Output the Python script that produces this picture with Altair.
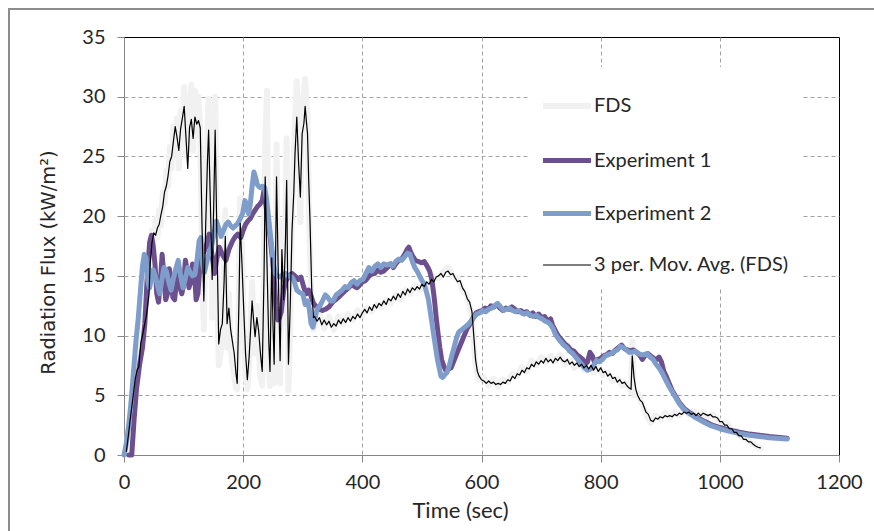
import altair as alt
import pandas as pd

# ---------------- data ----------------
series_names = ["FDS", "Experiment 1", "Experiment 2", "3 per. Mov. Avg. (FDS)"]
series_colors = ["#f1f1f1", "#6c4f8f", "#7f9dca", "#000000"]
series_widths = [6, 5, 5, 1.2]

x_ticks = [0, 200, 400, 600, 800, 1000, 1200]
y_ticks = [0, 5, 10, 15, 20, 25, 30, 35]

fds_points = [
    (4, 0.5), (7, 2.0), (10, 3.2), (13, 4.6), (16, 5.8), (19, 7.0), (22, 7.8), (25, 8.3), (28, 10.2),
    (31, 10.8), (34, 11.6), (37, 12.2), (40, 13.5), (42, 14.8), (44, 15.0), (47, 18.8), (50, 17.8),
    (53, 19.8), (56, 18.2), (59, 20.5), (62, 19.2), (65, 22.0), (68, 21.0), (71, 23.8), (74, 22.5),
    (77, 25.8), (80, 24.0), (83, 27.5), (86, 26.2), (89, 28.2), (92, 24.0), (95, 28.8), (98, 27.0),
    (101, 30.8), (104, 25.0), (107, 25.5), (110, 29.0), (113, 31.0), (116, 25.5), (119, 30.5),
    (122, 26.8), (125, 30.0), (128, 27.0), (131, 17.0), (134, 10.5), (137, 20.5), (140, 27.0),
    (142, 29.8), (145, 22.5), (148, 11.5), (151, 24.5), (153, 30.0), (156, 16.0), (159, 7.5),
    (162, 8.5), (165, 10.0), (168, 16.0), (170, 20.5), (173, 9.0), (176, 13.5), (179, 9.0),
    (182, 7.5), (185, 6.5), (188, 5.6), (190, 5.5), (193, 14.0), (195, 21.5), (198, 17.5),
    (201, 10.0), (204, 6.5), (207, 5.5), (210, 7.5), (213, 12.0), (215, 14.5), (218, 10.0),
    (220, 8.5), (223, 12.5), (226, 9.0), (229, 6.5), (232, 5.8), (235, 17.0), (237, 26.0),
    (240, 30.5), (243, 8.0), (245, 5.8), (248, 18.5), (250, 10.0), (252, 6.0), (254, 17.0),
    (256, 26.0), (259, 13.0), (262, 6.0), (265, 19.5), (268, 11.0), (271, 20.5), (273, 26.5),
    (276, 5.4), (279, 11.0), (282, 20.5), (285, 24.5), (287, 28.0), (290, 31.3), (293, 26.0),
    (296, 19.5), (299, 29.0), (302, 30.5), (304, 31.5), (306, 29.5), (308, 28.5), (310, 21.0),
    (312, 17.5), (315, 12.0), (318, 10.5),
    (320, 11.0), (328, 11.8), (336, 10.6), (344, 11.6), (352, 10.5), (360, 11.6), (368, 11.0),
    (376, 11.8), (384, 11.3), (392, 12.1), (400, 11.7), (408, 12.3), (416, 12.0), (424, 12.6),
    (432, 12.4), (440, 13.0), (448, 12.7), (456, 13.4), (464, 13.0), (472, 13.8), (480, 13.5),
    (488, 14.2), (496, 13.8), (504, 14.4), (512, 14.1), (520, 14.9), (528, 14.8), (536, 15.4),
    (544, 15.7), (552, 15.0), (560, 14.8), (568, 13.8), (576, 13.4), (584, 11.5), (590, 7.5),
    (596, 6.3), (604, 6.5), (612, 5.8), (620, 6.4), (628, 5.7), (636, 6.3), (644, 6.1),
    (652, 6.8), (660, 6.6), (668, 7.4), (676, 7.0), (684, 7.9), (692, 7.5), (700, 8.2),
    (708, 7.8), (716, 8.3), (724, 7.9), (732, 8.4), (740, 7.6), (748, 7.9), (756, 7.3),
    (764, 7.7), (772, 7.1), (780, 7.5), (788, 6.9), (796, 7.3), (804, 6.7), (812, 6.9),
    (820, 6.2), (828, 6.4), (836, 5.8), (844, 6.0), (851, 5.3), (853, 9.5), (856, 5.0),
    (862, 5.2), (870, 4.2), (876, 3.4), (884, 2.7), (892, 3.3), (900, 3.0), (908, 3.5),
    (916, 3.1), (924, 3.6), (932, 3.3), (940, 3.8), (948, 3.4), (956, 3.7), (964, 3.2),
    (972, 3.6), (980, 3.2), (988, 3.4), (996, 3.0), (1004, 2.6), (1012, 2.7), (1020, 2.0),
    (1028, 2.0), (1036, 1.5), (1044, 1.4), (1052, 1.0), (1060, 0.8), (1068, 0.55),
]

exp1_points = [
    (8, 0.0), (13, 0.0), (17, 3.0), (21, 5.5), (26, 7.5), (31, 9.0), (35, 11.0), (39, 15.0),
    (43, 17.8), (46, 18.4), (49, 17.5), (52, 16.0), (55, 13.5), (58, 12.8), (61, 14.5), (64, 16.8),
    (67, 15.0), (70, 13.0), (73, 13.5), (76, 15.6), (79, 14.8), (82, 13.2), (85, 13.0), (88, 14.5),
    (91, 15.3), (94, 14.0), (97, 13.5), (100, 14.2), (103, 16.3), (106, 15.5), (109, 14.0),
    (112, 14.5), (115, 16.0), (118, 15.5), (121, 13.0), (124, 13.5), (127, 15.5), (130, 17.4),
    (134, 17.0), (138, 17.5), (143, 18.5), (147, 17.0), (152, 15.2), (156, 16.5), (160, 17.4),
    (165, 16.8), (171, 16.3), (176, 17.2), (182, 17.9), (187, 18.3), (191, 18.5), (196, 18.2),
    (200, 18.8), (204, 19.3), (208, 19.6), (212, 19.8), (216, 20.2), (220, 20.5), (224, 20.8),
    (228, 21.0), (232, 21.3), (235, 22.2), (238, 21.0), (242, 19.5), (246, 17.9), (249, 16.5),
    (252, 14.9), (255, 12.5), (258, 11.3), (261, 11.5), (264, 12.0), (268, 13.8), (272, 14.6),
    (277, 15.0), (282, 15.2), (287, 15.0), (292, 14.7), (297, 14.9), (302, 14.0), (306, 13.5),
    (310, 13.8), (314, 13.3), (318, 12.7), (323, 12.4), (328, 12.2), (333, 12.1), (338, 12.2),
    (344, 12.4), (350, 12.8), (355, 13.0), (360, 13.2), (366, 13.5), (372, 13.8), (377, 14.0),
    (382, 14.3), (387, 14.1), (391, 14.0), (395, 14.2), (400, 14.5), (405, 14.6), (410, 14.9),
    (416, 15.2), (421, 15.2), (426, 15.5), (431, 15.3), (436, 15.4), (442, 15.7), (448, 16.0),
    (452, 15.7), (456, 16.0), (461, 16.3), (466, 16.4), (471, 16.8), (475, 17.2), (478, 17.4),
    (481, 17.0), (485, 16.6), (489, 16.3), (494, 16.2), (499, 16.1), (504, 16.2), (509, 15.8),
    (513, 15.4), (517, 14.6), (521, 13.0), (524, 11.5), (527, 10.2), (530, 9.0), (533, 8.0),
    (537, 7.4), (541, 7.0), (545, 7.2), (549, 7.3), (553, 7.8), (557, 8.3), (561, 8.8),
    (566, 9.4), (571, 10.0), (576, 10.6), (581, 11.0), (586, 11.5), (591, 11.9), (596, 12.0),
    (601, 12.1), (606, 12.3), (611, 12.2), (616, 12.5), (621, 12.4), (626, 12.6), (631, 12.3),
    (636, 12.1), (641, 12.3), (646, 12.2), (651, 12.4), (656, 12.2), (661, 12.0), (666, 12.1),
    (671, 11.9), (676, 12.0), (681, 11.7), (686, 11.9), (691, 11.6), (696, 11.8), (701, 11.5),
    (706, 11.6), (711, 11.2), (716, 11.4), (719, 10.9), (722, 10.6), (726, 10.2), (730, 9.9),
    (735, 9.6), (740, 9.3), (745, 9.1), (750, 8.8), (755, 8.7), (760, 8.4), (765, 8.2),
    (770, 8.0), (774, 7.6), (778, 7.8), (782, 8.6), (786, 8.3), (790, 7.7), (795, 8.0),
    (800, 8.1), (805, 8.3), (810, 8.4), (815, 8.6), (820, 8.5), (825, 8.8), (830, 9.0),
    (835, 9.2), (840, 8.9), (845, 8.8), (850, 8.7), (855, 8.8), (860, 8.6), (865, 8.4),
    (870, 8.0), (874, 8.3), (879, 8.5), (884, 8.3), (889, 8.1), (894, 8.0), (898, 8.2),
    (902, 7.8), (906, 7.0), (910, 6.6), (915, 6.0), (920, 5.4), (926, 4.9), (932, 4.4),
    (940, 3.9), (948, 3.6), (957, 3.3), (966, 3.05), (975, 2.8), (985, 2.55), (1000, 2.3),
    (1015, 2.1), (1033, 1.9), (1050, 1.75), (1066, 1.65), (1083, 1.55), (1100, 1.47), (1113, 1.4),
]

exp2_points = [
    (0, 0.0), (4, 1.0), (8, 2.5), (12, 4.5), (16, 7.0), (20, 9.5), (24, 11.5), (28, 14.0),
    (31, 15.8), (34, 16.8), (37, 16.5), (40, 14.5), (43, 14.0), (46, 14.8), (49, 15.5), (53, 14.9),
    (57, 14.0), (60, 13.5), (63, 14.5), (67, 15.7), (71, 15.4), (75, 14.5), (79, 13.8), (83, 14.8),
    (87, 15.6), (91, 16.3), (95, 15.0), (99, 14.0), (103, 14.8), (107, 15.7), (111, 15.3),
    (115, 15.0), (119, 15.1), (123, 16.5), (126, 17.9), (129, 18.2), (132, 16.0), (135, 15.3),
    (139, 16.2), (143, 17.0), (147, 17.5), (151, 18.5), (155, 19.6), (159, 19.0), (163, 18.3),
    (167, 18.8), (171, 19.3), (175, 19.5), (179, 19.2), (183, 19.0), (187, 19.2), (191, 19.4),
    (195, 19.8), (199, 20.2), (203, 21.3), (206, 21.0), (209, 20.2), (212, 21.0), (215, 22.5),
    (218, 23.7), (221, 23.2), (224, 22.6), (228, 22.4), (232, 22.5), (236, 22.4), (239, 21.5),
    (242, 20.2), (245, 18.8), (248, 17.4), (251, 16.0), (254, 15.2), (258, 15.0), (262, 14.9),
    (266, 15.1), (271, 15.2), (276, 15.0), (282, 14.9), (286, 14.5), (290, 13.8), (295, 13.6),
    (300, 13.5), (304, 12.6), (308, 12.9), (311, 12.2), (314, 11.0), (317, 10.7), (320, 11.3),
    (324, 12.2), (329, 12.5), (334, 13.0), (338, 13.4), (342, 13.2), (346, 12.9), (351, 12.9),
    (356, 13.4), (361, 13.6), (366, 13.8), (371, 14.1), (376, 14.0), (381, 14.4), (386, 14.6),
    (391, 14.3), (396, 14.6), (401, 14.7), (406, 15.2), (411, 15.7), (416, 15.4), (421, 15.8),
    (426, 16.0), (431, 15.7), (436, 16.0), (441, 15.9), (446, 16.0), (451, 15.8), (456, 16.2),
    (461, 16.4), (466, 16.3), (471, 16.6), (476, 16.9), (480, 16.8), (484, 16.2), (488, 15.7),
    (492, 15.4), (496, 15.0), (500, 14.6), (504, 14.3), (508, 13.6), (511, 13.0), (514, 12.0),
    (517, 11.0), (520, 10.0), (523, 9.0), (526, 8.0), (529, 7.3), (532, 6.6), (535, 6.5),
    (538, 6.7), (542, 6.9), (546, 7.5), (550, 8.3), (554, 9.0), (558, 9.8), (562, 10.3),
    (567, 10.5), (572, 10.7), (577, 10.9), (582, 11.2), (587, 11.5), (592, 11.8), (597, 11.9),
    (602, 12.1), (607, 12.0), (612, 12.2), (617, 12.3), (622, 12.5), (627, 12.7), (632, 12.4),
    (637, 12.1), (642, 12.2), (647, 12.3), (652, 12.1), (657, 12.0), (662, 12.1), (667, 11.9),
    (672, 11.8), (677, 11.9), (682, 11.7), (687, 11.6), (692, 11.7), (697, 11.5), (702, 11.4),
    (707, 11.2), (712, 11.1), (716, 10.9), (720, 10.6), (724, 10.1), (728, 9.8), (733, 9.5),
    (738, 9.2), (743, 9.0), (748, 8.7), (753, 8.5), (758, 8.2), (763, 7.9), (768, 7.6),
    (773, 7.3), (778, 7.1), (783, 7.2), (788, 7.5), (793, 7.9), (798, 7.8), (803, 8.0),
    (808, 8.3), (813, 8.4), (818, 8.5), (823, 8.7), (828, 8.8), (833, 9.1), (838, 9.0),
    (843, 8.8), (848, 8.6), (853, 8.6), (858, 8.7), (863, 8.5), (868, 8.4), (873, 8.4),
    (878, 8.5), (883, 8.2), (888, 8.0), (893, 7.6), (898, 7.3), (903, 6.9), (908, 6.4),
    (914, 5.8), (920, 5.3), (926, 4.8), (932, 4.3), (940, 3.8), (948, 3.5), (957, 3.2),
    (966, 2.95), (975, 2.7), (985, 2.45), (1000, 2.2), (1015, 2.0), (1033, 1.8), (1050, 1.65),
    (1066, 1.55), (1083, 1.45), (1100, 1.38), (1113, 1.33),
]

avg_points = [
    (4, 0.3), (7, 1.5), (10, 2.8), (13, 4.0), (16, 5.2), (19, 6.4), (22, 7.1), (25, 7.4), (28, 9.3),
    (31, 10.0), (34, 10.8), (37, 11.5), (40, 12.6), (42, 13.5), (44, 16.0), (47, 17.8), (50, 18.6),
    (53, 18.4), (56, 19.0), (59, 19.3), (62, 20.1), (65, 20.8), (68, 22.0), (71, 22.5), (74, 23.4),
    (77, 24.6), (80, 25.0), (83, 26.3), (86, 27.5), (89, 26.6), (92, 25.5), (95, 27.3), (98, 28.2),
    (101, 29.2), (104, 26.6), (107, 24.0), (110, 27.4), (113, 28.1), (116, 26.5), (119, 28.3),
    (122, 27.7), (125, 28.0), (128, 27.4), (131, 19.0), (134, 12.9), (137, 19.0), (140, 24.5),
    (142, 27.2), (145, 21.0), (148, 14.7), (151, 22.0), (153, 27.2), (156, 18.0), (159, 9.3),
    (162, 10.5), (165, 11.0), (168, 14.5), (170, 18.3), (173, 11.0), (176, 12.3), (179, 10.5),
    (182, 9.5), (185, 8.5), (188, 6.8), (190, 6.0), (193, 13.0), (195, 19.4), (198, 16.0),
    (201, 12.1), (204, 8.5), (207, 6.3), (210, 8.2), (213, 11.0), (215, 12.9), (218, 11.0),
    (220, 9.9), (223, 11.5), (226, 10.4), (229, 8.5), (232, 7.0), (235, 15.0), (237, 23.3),
    (240, 16.0), (243, 9.5), (245, 7.0), (248, 16.5), (250, 11.0), (252, 7.6), (254, 15.0),
    (256, 23.3), (259, 15.0), (262, 7.9), (265, 17.2), (268, 13.0), (271, 18.0), (273, 23.0),
    (276, 7.6), (279, 12.5), (282, 18.8), (285, 22.0), (287, 25.2), (290, 28.3), (293, 24.5),
    (296, 21.6), (299, 26.9), (302, 27.8), (304, 29.2), (306, 28.0), (308, 26.9), (310, 23.0),
    (312, 19.9), (315, 14.0), (318, 11.5),
    (320, 11.6), (324, 11.2), (328, 11.5), (332, 10.9), (336, 11.3), (340, 10.9), (344, 11.2),
    (348, 10.7), (352, 11.0), (356, 10.8), (360, 11.3), (364, 11.0), (368, 11.4), (372, 11.1),
    (376, 11.5), (380, 11.2), (384, 11.6), (388, 11.4), (392, 11.8), (396, 11.5), (400, 11.9),
    (404, 12.2), (408, 11.9), (412, 12.4), (416, 12.1), (420, 12.6), (424, 12.3), (428, 12.7),
    (432, 12.5), (436, 12.9), (440, 12.6), (444, 13.1), (448, 12.9), (452, 13.3), (456, 13.0),
    (460, 13.5), (464, 13.2), (468, 13.7), (472, 13.4), (476, 13.9), (480, 13.6), (484, 14.0),
    (488, 13.8), (492, 14.1), (496, 13.9), (500, 14.3), (504, 14.1), (508, 14.5), (512, 14.3),
    (516, 14.7), (520, 14.5), (524, 14.9), (528, 15.0), (532, 15.2), (536, 14.9), (540, 15.3),
    (544, 15.4), (548, 15.1), (552, 15.2), (556, 14.8), (560, 14.5), (564, 14.6), (568, 14.0),
    (572, 13.7), (576, 13.1), (580, 12.8), (584, 12.0), (587, 10.0), (590, 8.0), (593, 7.0),
    (596, 6.6), (600, 6.3), (604, 6.2), (608, 6.0), (612, 6.2), (616, 6.0), (620, 6.1),
    (624, 5.9), (628, 6.0), (632, 5.9), (636, 6.1), (640, 6.0), (644, 6.3), (648, 6.2),
    (652, 6.6), (656, 6.4), (660, 6.8), (664, 6.7), (668, 7.1), (672, 6.9), (676, 7.3),
    (680, 7.2), (684, 7.6), (688, 7.4), (692, 7.8), (696, 7.6), (700, 7.9), (704, 7.7),
    (708, 8.1), (712, 7.8), (716, 8.0), (720, 7.7), (724, 8.1), (728, 7.9), (732, 8.2),
    (736, 7.9), (740, 7.8), (744, 8.0), (748, 7.6), (752, 7.8), (756, 7.5), (760, 7.7),
    (764, 7.4), (768, 7.6), (772, 7.3), (776, 7.5), (780, 7.2), (784, 7.5), (788, 7.1),
    (792, 7.4), (796, 7.0), (800, 7.3), (804, 6.9), (808, 7.0), (812, 6.6), (816, 6.8),
    (820, 6.4), (824, 6.5), (828, 6.1), (832, 6.3), (836, 6.0), (840, 6.1), (844, 5.8),
    (848, 5.6), (851, 5.5), (853, 8.3), (856, 6.5), (859, 5.5), (862, 5.0), (866, 4.6),
    (870, 4.4), (873, 4.0), (876, 3.6), (880, 3.4), (884, 2.9), (888, 2.8), (892, 3.1),
    (896, 3.0), (900, 3.2), (904, 3.1), (908, 3.3), (912, 3.2), (916, 3.3), (920, 3.2),
    (924, 3.4), (928, 3.3), (932, 3.5), (936, 3.4), (940, 3.6), (944, 3.5), (948, 3.6),
    (952, 3.4), (956, 3.5), (960, 3.3), (964, 3.5), (968, 3.3), (972, 3.5), (976, 3.4),
    (980, 3.3), (984, 3.4), (988, 3.2), (992, 3.2), (996, 3.1), (1000, 2.8), (1004, 2.8),
    (1008, 2.5), (1012, 2.5), (1016, 2.2), (1020, 2.2), (1024, 1.9), (1028, 1.9), (1032, 1.6),
    (1036, 1.6), (1040, 1.3), (1044, 1.3), (1048, 1.1), (1052, 1.1), (1056, 0.9), (1060, 0.75),
    (1064, 0.65), (1068, 0.6),
]

# ---------------- build table ----------------
rows = []
for name, pts in zip(series_names, [fds_points, exp1_points, exp2_points, avg_points]):
    for t, v in pts:
        rows.append({"series": name, "time": t, "flux": v})
df = pd.DataFrame(rows)

TEXT = "#262626"
AXIS_GREY = "#868686"
GRID_GREY = "#a3a3a3"

x_enc = alt.X(
    "time:Q",
    scale=alt.Scale(domain=[0, 1200], nice=False, zero=False),
    axis=alt.Axis(
        values=x_ticks, format="d", title="Time (sec)", grid=True, gridDash=[4, 3], gridColor=GRID_GREY,
        gridOpacity={"condition": {"test": "datum.value <= 0 || datum.value >= 1200", "value": 0}, "value": 1},
        domainColor=AXIS_GREY, tickColor=AXIS_GREY, tickSize=7, labelFlush=False,
        labelFont="Lato", labelFontSize=20, labelColor=TEXT, labelPadding=10,
        titleFont="Lato", titleFontSize=22, titleFontWeight="normal", titleColor=TEXT,
        titleX=336, titleY=62, titleBaseline="alphabetic",
    ),
)
y_enc = alt.Y(
    "flux:Q",
    scale=alt.Scale(domain=[0, 35], nice=False),
    axis=alt.Axis(
        values=y_ticks, title="Radiation Flux (kW/m²)", grid=True, gridDash=[4, 3], gridColor=GRID_GREY,
        gridOpacity={"condition": {"test": "datum.value <= 0 || datum.value >= 35", "value": 0}, "value": 1},
        domainColor=AXIS_GREY, tickColor=AXIS_GREY, tickSize=7, labelFlush=False,
        labelFont="Lato", labelFontSize=20, labelColor=TEXT, labelPadding=12,
        titleFont="DejaVu Sans", titleFontSize=19.5, titleFontWeight="normal", titleColor=TEXT,
        titleX=-66, titleY=225,
    ),
)

legend = alt.Legend(
    title=None, orient="none", legendX=404, legendY=30,
    symbolType="stroke", symbolSize=2304, labelOffset=0, labelLimit=0,
    labelFont="Lato", labelFontSize=20, labelColor=TEXT,
    fillColor="white", padding=12, rowPadding=16,
)
color_enc = alt.Color("series:N", scale=alt.Scale(domain=series_names, range=series_colors), legend=legend)
width_enc = alt.StrokeWidth(
    "series:N", scale=alt.Scale(type="ordinal", domain=series_names, range=series_widths), legend=legend
)

layers = []
for name in series_names:
    layers.append(
        alt.Chart(df)
        .transform_filter(alt.datum.series == name)
        .mark_line(strokeJoin="round", strokeCap="round")
        .encode(x=x_enc, y=y_enc, color=color_enc, strokeWidth=width_enc)
    )

frame = (
    alt.Chart(pd.DataFrame({"k": [0]}))
    .mark_rect(filled=False, stroke="#8c8c8c", strokeWidth=2)
    .encode(x=alt.value(-115), x2=alt.value(800), y=alt.value(-28), y2=alt.value(560))
)

chart = (
    alt.layer(*layers, frame)
    .properties(
        width=715, height=418,
        autosize=alt.AutoSizeParams(type="none"),
        padding={"left": 124, "top": 37, "right": 35, "bottom": 76},
        background="white",
    )
    .configure_view(stroke="#000000", strokeWidth=1)
)

chart.save("out.html", embed_options={"renderer": "svg", "actions": False})
